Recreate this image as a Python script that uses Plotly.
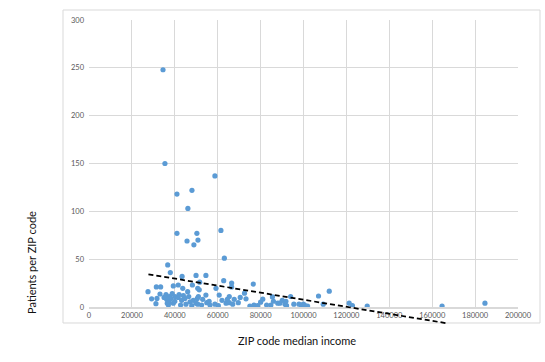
import plotly.graph_objects as go

# ---- data ----
income = [
    34500, 35400, 58700, 48000, 41000, 46100, 61500, 41000, 50300, 45700,
    50800, 48900, 63100, 36700, 37900, 43400, 49900, 54500, 62800, 66500,
    76600, 27500, 31400, 33400, 39300, 41600, 43700, 48200, 46000, 50700,
    51600, 59200, 66500, 51400, 72500, 112000, 33100, 35900, 29200, 31700,
    37400, 36200, 38200, 40100, 41600, 43200, 44700, 47100, 48600, 50500,
    51000, 54500, 60700, 65400, 73200, 67700, 85500, 90100, 81000, 94000,
    91800, 107000, 31200, 37000, 37300, 39300, 42700, 45200, 47900, 49900,
    50700, 52500, 54900, 56400, 58700, 60300, 63900, 65400, 69600, 76900,
    78600, 82800, 84800, 88000, 91400, 89000, 92100, 97900, 99100, 99900,
    101900, 109200, 121300, 122800, 129700, 164600, 184600, 35000, 38800, 42000,
    44000, 46500, 40000, 36500, 53000, 56000, 62000, 64500, 67000, 70500,
    75000, 80000, 86000, 95500, 100500,
]
patients = [
    248, 150, 137, 122, 118, 103, 80, 77, 77, 69,
    70, 65, 51, 44, 36, 32, 33, 33, 27.5, 25,
    24, 16, 21, 21, 22, 23, 19.5, 23, 16, 19.5,
    26, 19.5, 21, 18, 14.5, 16.5, 13.6, 13, 8.5, 9,
    11, 8, 9, 11, 10, 7, 9, 5.5, 7, 9,
    11, 12.5, 12.5, 11, 8.5, 8, 10.5, 7, 8.2, 11,
    6, 11.5, 3.5, 2, 5, 4, 2, 3, 1.4, 4,
    3, 2, 4.5, 2, 3, 1.4, 4, 4.5, 4.5, 2,
    1.4, 2, 2, 4, 3, 4, 1.4, 3, 0.3, 3,
    1, 3, 4, 1.4, 1, 1, 4, 10, 14, 13,
    12, 11, 6, 4, 8, 6, 7, 8, 3, 10,
    1, 5, 6, 3, 2,
]

# linear trendline end points
trend_x = [27700, 166800]
trend_y = [34.2, -17.0]

x_ticks = list(range(0, 200001, 20000))
y_ticks = list(range(0, 301, 50))
X_RANGE = [0, 200000]
Y_RANGE = [0, 300]

GRID = "#d9d9d9"
TICK_COLOR = "#595959"
FONT = "Lato"

fig = go.Figure()
fig.add_trace(go.Scatter(
    x=income, y=patients, mode="markers",
    marker=dict(color="#5b9bd5", size=5.2, line=dict(width=0)),
    showlegend=False, hoverinfo="x+y",
))

# trendline: drawn as a shape so it may run below the x axis like the original
fig.add_shape(
    type="line", xref="x", yref="y domain",
    x0=trend_x[0], x1=trend_x[1],
    y0=(trend_y[0] - Y_RANGE[0]) / (Y_RANGE[1] - Y_RANGE[0]),
    y1=(trend_y[1] - Y_RANGE[0]) / (Y_RANGE[1] - Y_RANGE[0]),
    line=dict(color="black", width=1.75, dash="5px,3px"),
    layer="above",
)

# chart-area border
fig.add_shape(
    type="rect", xref="paper", yref="paper",
    x0=-0.0606, x1=1.0513, y0=-0.0557, y1=1.0348,
    line=dict(color=GRID, width=1), fillcolor="rgba(0,0,0,0)", layer="below",
)

fig.update_layout(
    width=545, height=362, autosize=False,
    margin=dict(l=89, r=27, t=20, b=55, pad=0),
    paper_bgcolor="white", plot_bgcolor="white",
    font=dict(family=FONT, color="#222"),
    xaxis=dict(
        range=X_RANGE, tickvals=x_ticks, ticktext=[str(v) for v in x_ticks],
        showgrid=True, gridcolor=GRID, gridwidth=1, zeroline=False,
        showline=True, linecolor=GRID, linewidth=2,
        ticks="", tickfont=dict(size=7.5, color=TICK_COLOR, family=FONT),
    ),
    yaxis=dict(
        range=Y_RANGE, tickvals=y_ticks, ticktext=[str(v) for v in y_ticks],
        showgrid=True, gridcolor=GRID, gridwidth=1, zeroline=False,
        showline=False, ticks="", ticklabelstandoff=4,
        tickfont=dict(size=7.5, color=TICK_COLOR, family=FONT),
    ),
    annotations=[
        dict(text="ZIP code median income", xref="paper", yref="paper",
             x=0.485, y=-0.118, xanchor="center", yanchor="middle",
             showarrow=False, font=dict(size=11, family=FONT, color="#111")),
        dict(text="Patients per ZIP code", xref="paper", yref="paper",
             x=-0.133, y=0.157, xanchor="center", yanchor="middle",
             textangle=-90, showarrow=False,
             font=dict(size=11, family=FONT, color="#111")),
    ],
)

fig.write_html("out.html", config={"displayModeBar": False},
               post_script="document.body.style.margin='0';")
